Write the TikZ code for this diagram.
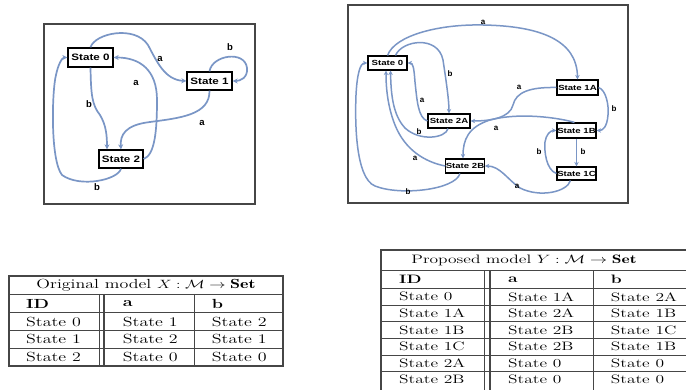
\documentclass[tikz,border=0pt]{standalone}
\usepackage{graphicx}
\usepackage{fontspec}
\newfontfamily\labfont{Liberation Sans}
\usetikzlibrary{arrows.meta}
\definecolor{edgeblue}{RGB}{122,150,198}
\definecolor{rulegray}{RGB}{70,70,70}
\newcommand{\hst}[2]{\scalebox{#1}[1]{#2}}
\tikzset{
  lstate/.style={draw=black, line width=1.3pt, fill=white, inner sep=0pt,
    font=\labfont\bfseries\fontsize{9.3}{10}\selectfont},
  rstate/.style={draw=black, line width=1.1pt, fill=white, inner sep=0pt,
    font=\labfont\bfseries\fontsize{7.4}{8}\selectfont},
  ledge/.style={draw=edgeblue, line width=1.7pt, -{Stealth[length=5pt,width=5pt]}},
  redge/.style={draw=edgeblue, line width=1.5pt, -{Stealth[length=4.5pt,width=4.5pt]}},
  llab/.style={inner sep=0pt, font=\labfont\bfseries\fontsize{9.5}{10}\selectfont},
  rlab/.style={inner sep=0pt, font=\labfont\bfseries\fontsize{8}{9}\selectfont},
  frame/.style={draw=rulegray, line width=1.2pt},
  lcell/.style={inner sep=0pt, anchor=west, font=\fontsize{13.2}{15}\selectfont},
  rcell/.style={inner sep=0pt, anchor=west, font=\fontsize{12.2}{14}\selectfont},
  tout/.style={draw=rulegray, line width=1.1pt},
  tin/.style={draw=rulegray, line width=0.7pt},
  tthick/.style={draw=rulegray, line width=1.8pt},
}
\begin{document}
\begin{tikzpicture}[x=1pt,y=-1pt]
\useasboundingbox (0,0) rectangle (686,390);
\fill[white] (0,0) rectangle (686,390);

% ---------------- left diagram ----------------
\draw[frame] (44,24) rectangle (255,204);
\node[lstate, minimum width=45pt, minimum height=19pt] (s0) at (90.5,57.5) {\hst{1.25}{State 0}};
\node[lstate, minimum width=45pt, minimum height=18pt] (s1) at (209.5,81) {\hst{1.25}{State 1}};
\node[lstate, minimum width=44pt, minimum height=18pt] (s2) at (121,159) {\hst{1.25}{State 2}};

\draw[ledge] (s0.north) .. controls (95,33) and (135,25) .. (148,45)
  .. controls (157,62) and (165,80) .. (s1.west);
\draw[ledge] (s1.north) .. controls (212,55) and (245,50) .. (247,68)
  .. controls (248,78) and (240,81) .. (s1.east);
\draw[ledge] (s1.south) .. controls (210,115) and (180,118) .. (150,122)
  .. controls (125,125) and (120,135) .. (s2.north);
\draw[ledge] (s0.south) .. controls (91,95) and (92,105) .. (100,115)
  .. controls (106,125) and (107,135) .. ([xshift=-14pt]s2.north);
\draw[ledge] (s2.east) .. controls (155,155) and (157,130) .. (157,100)
  .. controls (157,70) and (140,57.5) .. (s0.east);
\draw[ledge] (s2.south) .. controls (118,180) and (80,188) .. (62,175)
  .. controls (50,160) and (52,90) .. (56,75)
  .. controls (58,65) and (62,57.5) .. (s0.west);

\node[llab] (la1) at (160,59) {a};
\node[llab] (lb1) at (230,47) {b};
\node[llab] (la2) at (136,83) {a};
\node[llab] (lb2) at (89,104) {b};
\node[llab] (la3) at (202,123) {a};
\node[llab] (lb3) at (97,187) {b};

% ---------------- right diagram ----------------
\draw[frame] (348,5) rectangle (628,203);
\node[rstate, minimum width=39pt, minimum height=14pt] (r0) at (387.5,63) {\hst{1.3}{State 0}};
\node[rstate, minimum width=41pt, minimum height=15pt] (r1a) at (577.5,87.5) {\hst{1.3}{State 1A}};
\node[rstate, minimum width=42pt, minimum height=14pt] (r2a) at (449,121) {\hst{1.3}{State 2A}};
\node[rstate, minimum width=39pt, minimum height=15pt] (r1b) at (576.5,130.5) {\hst{1.3}{State 1B}};
\node[rstate, minimum width=38pt, minimum height=14pt] (r2b) at (465,166) {\hst{1.3}{State 2B}};
\node[rstate, minimum width=39pt, minimum height=13pt] (r1c) at (576.5,173.5) {\hst{1.3}{State 1C}};

\draw[redge] (r0.north) .. controls (395,35) and (440,24) .. (483,25)
  .. controls (540,26) and (577,40) .. (r1a.north);
\draw[redge] ([xshift=8pt]r0.north) .. controls (402,40) and (438,35) .. (443,60)
  .. controls (446,80) and (449,100) .. (r2a.north);
\draw[redge] (r2a.west) .. controls (418,118) and (417,100) .. (415,82)
  .. controls (414,68) and (413,63) .. (r0.east);
\draw[redge] ([xshift=-1pt]r2a.south) .. controls (446,138) and (420,142) .. (405,128)
  .. controls (393,115) and (391,95) .. ([xshift=3pt]r0.south);
\draw[redge] (r2b.west) .. controls (425,162) and (405,150) .. (395,125)
  .. controls (387,105) and (386,85) .. ([xshift=-1.5pt]r0.south);
\draw[redge] ([xshift=-5pt]r2b.south) .. controls (455,190) and (400,196) .. (375,186)
  .. controls (355,178) and (355,120) .. (356,95)
  .. controls (357,75) and (360,63) .. (r0.west);
\draw[redge] (r1a.west) .. controls (530,87) and (516,92) .. (513,105)
  .. controls (510,118) and (490,121) .. (r2a.east);
\draw[redge] (r1a.east) .. controls (606,90) and (609,105) .. (608,115)
  .. controls (607,127) and (603,130.5) .. (r1b.east);
\draw[redge] ([xshift=-2pt]r1b.north) .. controls (560,118) and (520,112) .. (490,120)
  .. controls (468,127) and (463,140) .. ([xshift=-2pt]r2b.north);
\draw[redge] (r1b.south) -- (r1c.north);
\draw[redge] (r1c.west) .. controls (546,170) and (544,150) .. (545,142)
  .. controls (546,135) and (550,130.5) .. (r1b.west);
\draw[redge] ([xshift=-6pt]r1c.south) .. controls (567,192) and (540,198) .. (520,188)
  .. controls (508,180) and (500,166) .. (r2b.east);

\node[rlab] (ra1) at (483,22) {a};
\node[rlab] (rb1) at (450,74) {b};
\node[rlab] (ra2) at (519,87) {a};
\node[rlab] (rb2) at (614,109) {b};
\node[rlab] (ra3) at (422,100) {a};
\node[rlab] (ra4) at (496,128) {a};
\node[rlab] (rb3) at (419,132) {b};
\node[rlab] (rb4) at (539,152) {b};
\node[rlab] (rb5) at (583,152) {b};
\node[rlab] (ra5) at (415,158) {a};
\node[rlab] (ra6) at (517,186) {a};
\node[rlab] (rb6) at (408,192) {b};

% ---------------- left table ----------------
\draw[tout] (9,276) rectangle (283,366);
\draw[tin] (9,294) -- (283,294);
\draw[tthick] (9,312.5) -- (283,312.5);
\draw[tin] (9,330) -- (283,330);
\draw[tin] (9,348) -- (283,348);
\draw[tin] (99.5,294) -- (99.5,366);
\draw[tout] (104,294) -- (104,366);
\draw[tin] (194,294) -- (194,366);
\node[inner sep=0pt, font=\fontsize{13.2}{15}\selectfont] (ltitle) at (146,285)
  {\hst{1.36}{Original model $X : \mathcal{M}\to\mathbf{Set}$}};
\node[lcell] (lhid) at (26,303.5) {\hst{1.36}{\bfseries ID}};
\node[lcell] (lha) at (122.7,303.5) {\hst{1.36}{\bfseries a}};
\node[lcell] (lhb) at (211.7,303.5) {\hst{1.36}{\bfseries b}};
\foreach \yy/\ci/\ca/\cb [count=\k] in {321.5/State 0/State 1/State 2,
    339/State 1/State 2/State 1, 357/State 2/State 0/State 0}{
  \node[lcell] (lid\k) at (26,\yy) {\hst{1.36}{\ci}};
  \node[lcell] (lca\k) at (122.7,\yy) {\hst{1.36}{\ca}};
  \node[lcell] (lcb\k) at (211.7,\yy) {\hst{1.36}{\cb}};
}

% ---------------- right table ----------------
\draw[tout] (381,392) -- (381,250) -- (690,250);
\draw[tin] (381,270.5) -- (690,270.5);
\draw[tthick] (381,288.5) -- (690,288.5);
\foreach \yy in {305.1,321.7,338.3,354.9,371.5}{
  \draw[tin] (381,\yy) -- (690,\yy);
}
\draw[tin] (484.5,270.5) -- (484.5,392);
\draw[tout] (490,270.5) -- (490,392);
\draw[tin] (593,270.5) -- (593,392);
\node[inner sep=0pt, font=\fontsize{12.2}{14}\selectfont] (rtitle) at (524,260.5)
  {\hst{1.43}{Proposed model $Y : \mathcal{M}\to\mathbf{Set}$}};
\node[rcell] (rhid) at (399,279.5) {\hst{1.43}{\bfseries ID}};
\node[rcell] (rha) at (508,279.5) {\hst{1.43}{\bfseries a}};
\node[rcell] (rhb) at (610.7,279.5) {\hst{1.43}{\bfseries b}};
\foreach \yy/\ci/\ca/\cb [count=\k] in {296.8/State 0/State 1A/State 2A,
    313.4/State 1A/State 2A/State 1B, 330/State 1B/State 2B/State 1C,
    346.6/State 1C/State 2B/State 1B, 363.2/State 2A/State 0/State 0,
    379.8/State 2B/State 0/State 0}{
  \node[rcell] (rid\k) at (399,\yy) {\hst{1.43}{\ci}};
  \node[rcell] (rca\k) at (508,\yy) {\hst{1.43}{\ca}};
  \node[rcell] (rcb\k) at (610.7,\yy) {\hst{1.43}{\cb}};
}
\end{tikzpicture}
\end{document}
